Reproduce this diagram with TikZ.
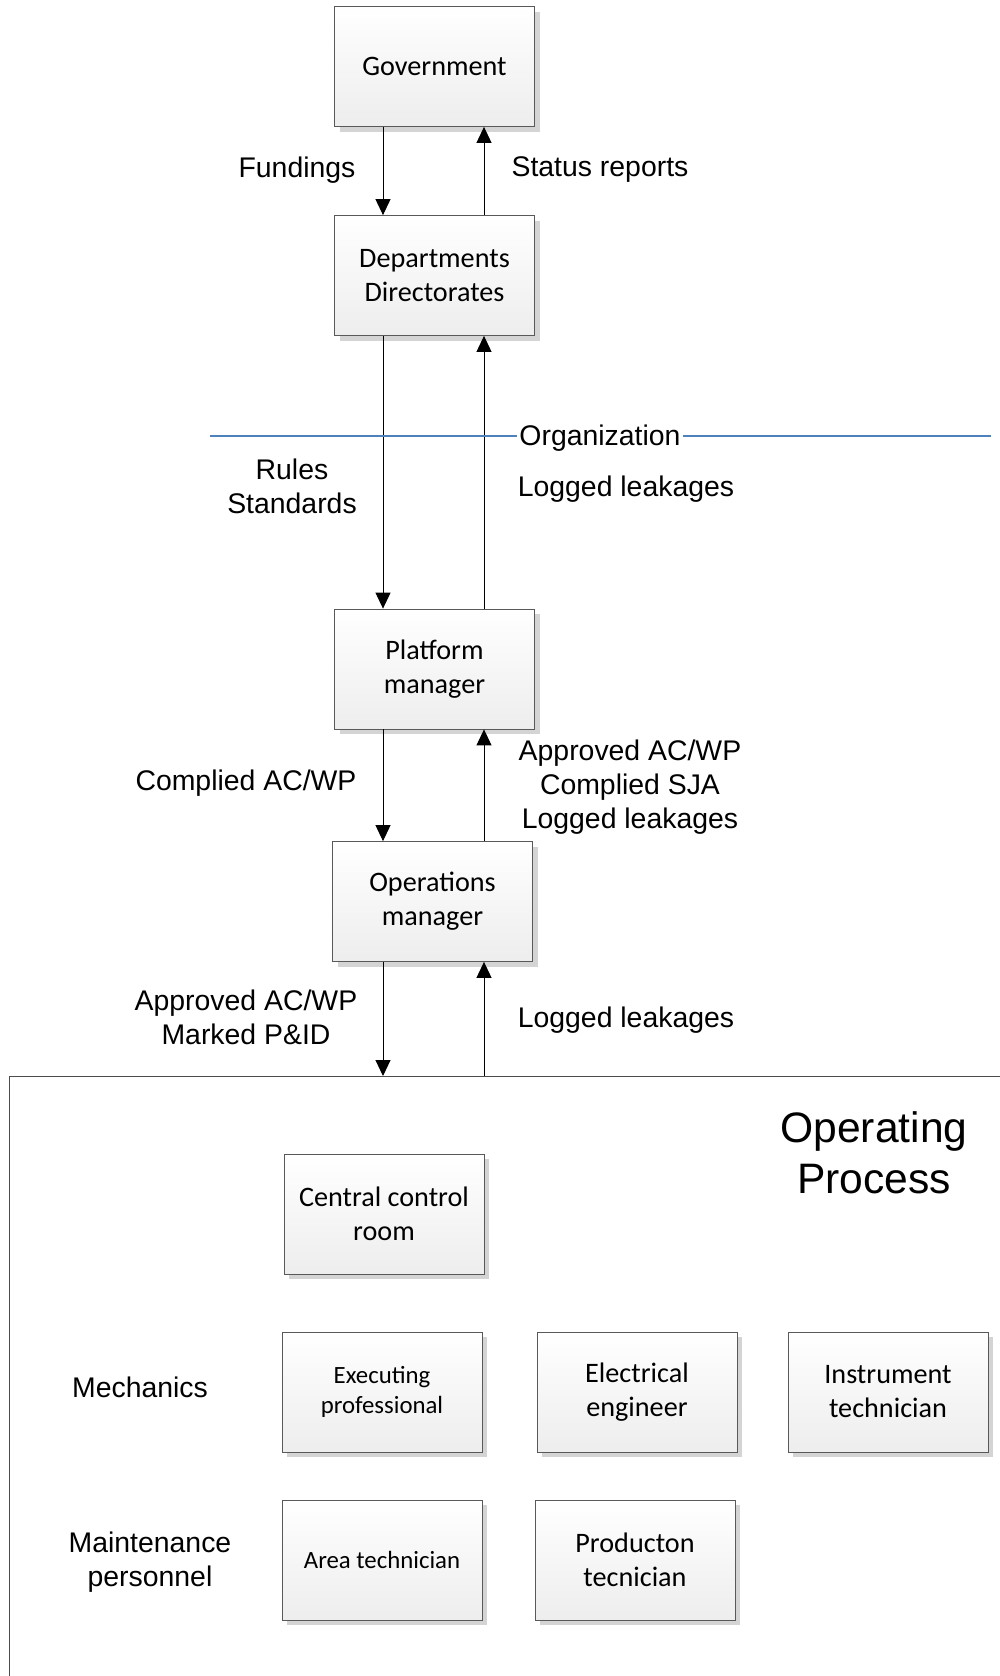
\documentclass[tikz,border=0pt]{standalone}
\usepackage{fontspec}
\setmainfont{Liberation Sans}
\newfontfamily\boxfont{Carlito}
\usetikzlibrary{arrows.meta,shadows}
\definecolor{orgblue}{RGB}{79,129,189}
\tikzset{
    unit/.style={draw=black!65, top color=white, bottom color=black!7,
        drop shadow={shadow xshift=2.5pt, shadow yshift=-2.5pt, fill=black!17, opacity=1},
        minimum width=100pt, minimum height=60pt, inner sep=0pt, align=center,
        font=\boxfont\fontsize{14.1}{17}\selectfont},
    smallunit/.style={unit, font=\boxfont\fontsize{12.4}{15}\selectfont},
    flowlabel/.style={align=center, inner sep=0pt, font=\fontsize{14.2}{17}\selectfont},
    flow/.style={line width=0.5pt, -{Triangle[length=8pt,width=7.5pt]}},
}

\begin{document}
\begin{tikzpicture}[x=0.5pt,y=-0.5pt]
    \useasboundingbox (0,0) rectangle (1000,1676);
    \coordinate (down) at (383,0);
    \coordinate (up) at (484,0);
    \coordinate (frametop) at (0,1076);

    \node[unit] (gov) at (434.5,66.5) {Government};
    \node[unit] (dept) at (434.5,275.5) {Departments\\Directorates};
    \node[unit] (plat) at (434.5,669) {Platform\\manager};
    \node[unit] (ops) at (432.5,901.5) {Operations\\manager};

    \draw[flow] (gov.south -| down) -- (dept.north -| down);
    \draw[flow] (dept.north -| up) -- (gov.south -| up);
    \draw[flow] (dept.south -| down) -- (plat.north -| down);
    \draw[flow] (plat.north -| up) -- (dept.south -| up);
    \draw[flow] (plat.south -| down) -- (ops.north -| down);
    \draw[flow] (ops.north -| up) -- (plat.south -| up);
    \draw[flow] (ops.south -| down) -- (frametop -| down);
    \draw[flow] (frametop -| up) -- (ops.south -| up);

    \node[flowlabel] (fund) at (297,170) {Fundings};
    \node[flowlabel] (status) at (600,170) {Status reports};
    \node[flowlabel] (rules) at (292,486) {Rules\\Standards};
    \node[flowlabel] (logorg) at (626,489) {Logged leakages};
    \node[flowlabel] (compl) at (246,783) {Complied AC/WP};
    \node[flowlabel] (appr) at (630,787) {Approved AC/WP\\Complied SJA\\Logged leakages};
    \node[flowlabel] (marked) at (246,1017) {Approved AC/WP\\Marked P\&ID};
    \node[flowlabel] (logops) at (626,1020) {Logged leakages};

    \draw[orgblue, line width=0.6pt] (210,436) -- (991,436);
    \node[flowlabel, fill=white, inner xsep=1pt] (org) at (600,438) {Organization};

    \draw[black!70, line width=0.5pt] (9,1076) rectangle (1010,1690);
    \node[align=center, inner sep=0pt, font=\fontsize{21.3}{25.5}\selectfont] (opproc) at (874,1153) {Operating\\Process};

    \node[unit] (ccr) at (384,1214) {Central control\\room};
    \node[smallunit] (exe) at (382,1392) {Executing\\professional};
    \node[unit] (elec) at (637,1392) {Electrical\\engineer};
    \node[unit] (instr) at (888,1392) {Instrument\\technician};
    \node[smallunit] (area) at (382,1560) {Area technician};
    \node[unit] (prod) at (635,1560) {Producton\\tecnician};

    \node[flowlabel] (mech) at (140,1387) {Mechanics};
    \node[flowlabel] (maint) at (150,1562) {Maintenance\\personnel};
\end{tikzpicture}
\end{document}
